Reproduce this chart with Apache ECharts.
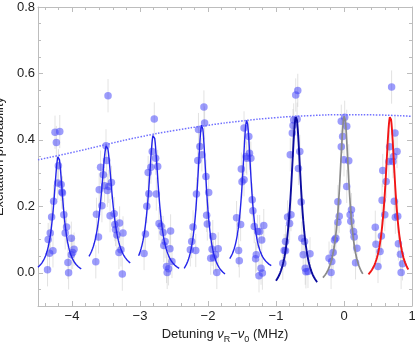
<!DOCTYPE html>
<html>
<head>
<meta charset="utf-8">
<script src="https://cdn.jsdelivr.net/npm/echarts@6/dist/echarts.min.js"></script>
<style>
html,body{margin:0;padding:0;background:#fff;}
#c{width:415px;height:342px;}
</style>
</head>
<body>
<div id="c"></div>
<script>
// ---- Data ----
const res1 = [[-4.25,0.423],[-4.18,0.425],[-4.23,0.392],[-4.20,0.322],[-4.21,0.27],[-4.16,0.266],[-4.14,0.24],[-4.15,0.243],[-4.27,0.215],[-4.30,0.168],[-4.12,0.175],[-4.08,0.138],[-4.10,0.12],[-4.32,0.12],[-4.35,0.10],[-4.01,0.104],[-4.28,0.066],[-4.33,0.059],[-3.97,0.071],[-3.99,0.061],[-4.01,0.054],[-4.06,0.031],[-4.36,0.009],[-4.05,0.0]];
const res2 = [[-3.47,0.533],[-3.50,0.382],[-3.49,0.338],[-3.58,0.318],[-3.54,0.295],[-3.52,0.262],[-3.46,0.26],[-3.60,0.25],[-3.48,0.248],[-3.42,0.272],[-3.56,0.202],[-3.64,0.176],[-3.44,0.172],[-3.38,0.178],[-3.37,0.145],[-3.30,0.15],[-3.36,0.13],[-3.34,0.114],[-3.25,0.12],[-3.61,0.108],[-3.31,0.061],[-3.28,0.069],[-3.65,0.033],[-3.26,-0.004]];
const res3 = [[-2.79,0.463],[-2.82,0.365],[-2.77,0.345],[-2.84,0.318],[-2.74,0.32],[-2.88,0.302],[-2.87,0.238],[-2.76,0.237],[-2.90,0.20],[-2.72,0.148],[-2.69,0.14],[-2.92,0.117],[-2.66,0.121],[-2.55,0.126],[-2.63,0.094],[-2.65,0.082],[-2.56,0.072],[-2.94,0.058],[-2.53,0.034],[-2.61,0.019],[-2.58,0.012],[-2.60,0.001]];
const res4 = [[-2.06,0.499],[-2.05,0.451],[-2.14,0.431],[-2.12,0.38],[-2.09,0.355],[-2.15,0.338],[-2.03,0.29],[-2.17,0.237],[-1.99,0.242],[-2.02,0.173],[-2.01,0.147],[-2.22,0.138],[-1.93,0.109],[-2.24,0.094],[-2.26,0.069],[-2.18,0.067],[-1.85,0.072],[-1.94,0.071],[-1.89,0.054],[-1.96,0.044],[-1.92,0.045],[-1.87,0.001]];
const res5 = [[-1.47,0.436],[-1.40,0.41],[-1.44,0.35],[-1.39,0.36],[-1.37,0.345],[-1.43,0.345],[-1.51,0.312],[-1.47,0.28],[-1.50,0.274],[-1.35,0.22],[-1.34,0.187],[-1.58,0.166],[-1.52,0.145],[-1.32,0.139],[-1.18,0.142],[-1.27,0.124],[-1.24,0.124],[-1.21,0.099],[-1.55,0.067],[-1.29,0.054],[-1.30,0.042],[-1.54,0.036],[-1.22,0.014],[-1.20,-0.001],[-1.25,-0.009]];
const res6 = [[-0.68,0.549],[-0.71,0.535],[-0.74,0.46],[-0.69,0.462],[-0.75,0.443],[-0.76,0.421],[-0.65,0.365],[-0.79,0.355],[-0.67,0.314],[-0.63,0.213],[-0.83,0.168],[-0.78,0.175],[-0.80,0.148],[-0.62,0.104],[-0.58,0.094],[-0.86,0.094],[-0.88,0.067],[-0.86,0.066],[-0.60,0.054],[-0.50,0.057],[-0.90,0.029],[-0.57,0.014],[-0.53,0.004],[-0.56,0.003]];
const res7 = [[0.01,0.468],[-0.04,0.456],[0.04,0.441],[-0.02,0.41],[-0.04,0.379],[0.0,0.34],[0.07,0.337],[0.04,0.26],[-0.09,0.214],[0.11,0.19],[-0.07,0.17],[0.09,0.175],[-0.09,0.152],[0.10,0.155],[0.14,0.124],[0.15,0.108],[-0.12,0.104],[-0.14,0.099],[0.19,0.074],[-0.16,0.061],[-0.22,0.044],[-0.18,0.034],[0.17,0.03],[-0.19,0.001]];
const res8 = [[0.70,0.559],[0.75,0.421],[0.67,0.379],[0.78,0.365],[0.73,0.35],[0.66,0.335],[0.72,0.335],[0.57,0.308],[0.62,0.275],[0.56,0.218],[0.74,0.215],[0.60,0.175],[0.755,0.167],[0.79,0.17],[0.46,0.137],[0.55,0.111],[0.47,0.086],[0.80,0.087],[0.53,0.064],[0.83,0.056],[0.50,0.019],[0.86,0.027],[0.84,0.001]];
const errHalf = 0.05;

// Lorentzian fit parameters per resonance
const fitCenters = [-4.20, -3.49, -2.80, -2.09, -1.43, -0.705, 0.005, 0.68];
const fitPeaks   = [0.352, 0.385, 0.418, 0.446, 0.459, 0.471, 0.473, 0.471];
const fitWidths  = [0.17, 0.20, 0.18, 0.165, 0.16, 0.18, 0.17, 0.175];
const fitOffsets = [-0.01, 0.0, -0.01, -0.03, 0.0, -0.07, -0.05, -0.04];
const fitFrom    = [-4.5, -3.75, -3.02, -2.35, -1.68, -1.0, -0.31, 0.36];
const fitTo      = [-3.86, -3.14, -2.42, -1.75, -1.07, -0.39, 0.28, 0.95];

// envelope (dotted) read at these detunings
const envX = [-4.5,-4,-3.5,-3,-2.5,-2,-1.5,-1,-0.5,0,0.5,1];
const envY = [0.340,0.362,0.386,0.409,0.428,0.444,0.457,0.467,0.473,0.476,0.475,0.471];

const xMajor = [-4,-3,-2,-1,0,1];
const xMinor = [-4.4,-4.2,-3.8,-3.6,-3.4,-3.2,-2.8,-2.6,-2.4,-2.2,-1.8,-1.6,-1.4,-1.2,-0.8,-0.6,-0.4,-0.2,0.2,0.4,0.6,0.8];
const yMajor = [0,0.2,0.4,0.6,0.8];
const yMinor = [-0.05,0.05,0.1,0.15,0.25,0.3,0.35,0.45,0.5,0.55,0.65,0.7,0.75];

// ---- Styling ----
const curveColors = ['#2424ea','#2424ea','#2424ea','#2424ea','#2424ea','#0b0b9e','#8a8a8a','#f21515'];
const curveWidths = [1.4,1.4,1.4,1.4,1.4,1.9,1.7,1.9];
const frameColor = '#bdbdbd';
const textColor = '#222';
const FONT = 'Liberation Sans, Arial, sans-serif';

function lorentzCurve(i){
  const c=fitCenters[i], p=fitPeaks[i], g=fitWidths[i], o=fitOffsets[i];
  const a=p-o, pts=[];
  const n=160;
  for(let k=0;k<=n;k++){
    const x=fitFrom[i]+(fitTo[i]-fitFrom[i])*k/n;
    const d=2*(x-c)/g;
    pts.push([x, o + a/(1+d*d)]);
  }
  return pts;
}

const allPoints = [].concat(res1,res2,res3,res4,res5,res6,res7,res8);

const chart = echarts.init(document.getElementById('c'), null, {renderer:'canvas'});
const fmtX = v => (v<0 ? '\u2212'+Math.abs(v) : String(v));

function xAx(pos, major){
  return {
    type:'value', position:pos, min:-4.5, max:1, gridIndex:0,
    axisLine:{show:major, onZero:false, lineStyle:{color:frameColor, width:1}},
    axisTick:{show:true, inside:true, length: major?5:3, customValues: major?xMajor:xMinor,
      lineStyle:{color:frameColor, width:1}},
    axisLabel:{show: major && pos==='bottom', customValues:xMajor, formatter:fmtX, margin:4,
      color:textColor, fontSize:13, fontFamily:FONT},
    splitLine:{show:false}
  };
}
function yAx(pos, major){
  return {
    type:'value', position:pos, min:-0.1, max:0.8, gridIndex:0,
    axisLine:{show:major, onZero:false, lineStyle:{color:frameColor, width:1}},
    axisTick:{show:true, inside:true, length: major?5:3, customValues: major?yMajor:yMinor,
      lineStyle:{color:frameColor, width:1}},
    axisLabel:{show: major && pos==='left', customValues:yMajor, formatter:v=>v.toFixed(1), margin:3,
      color:textColor, fontSize:13, fontFamily:FONT},
    splitLine:{show:false}
  };
}

const xAxes = [xAx('bottom',true), xAx('bottom',false), xAx('top',true), xAx('top',false)];
xAxes[0].name = '{n|Detuning }{i|\u03bd}{s|R}{n|\u2212}{i|\u03bd}{s|0}{n| (MHz)}';
xAxes[0].nameLocation = 'middle';
xAxes[0].nameGap = 20;
xAxes[0].nameTextStyle = {
  color:textColor, fontSize:13, fontFamily:FONT,
  rich:{
    n:{fontSize:13, fontFamily:FONT, color:textColor, lineHeight:16, verticalAlign:'top'},
    i:{fontSize:13, fontFamily:FONT, fontStyle:'italic', color:textColor, lineHeight:16, verticalAlign:'top'},
    s:{fontSize:9, fontFamily:FONT, color:textColor, lineHeight:11, padding:[7,0,0,0], verticalAlign:'top'}
  }
};
const yAxes = [yAx('left',true), yAx('left',false), yAx('right',true), yAx('right',false)];
yAxes[0].name = 'Excitation probability';
yAxes[0].nameLocation = 'middle';
yAxes[0].nameGap = 24;
yAxes[0].nameTextStyle = {color:textColor, fontSize:13, fontFamily:FONT};

const series = [];
series.push({
  type:'custom', xAxisIndex:0, yAxisIndex:0, clip:true, z:1, silent:true,
  data: allPoints.map(p=>[p[0],p[1],errHalf]),
  renderItem:(params, api)=>{
    const x=api.value(0), y=api.value(1), e=api.value(2);
    const a=api.coord([x,y-e]), b=api.coord([x,y+e]);
    return {type:'line', shape:{x1:a[0],y1:a[1],x2:b[0],y2:b[1]},
      style:{stroke:'rgba(190,190,190,0.45)', lineWidth:1}};
  }
});
series.push({
  type:'scatter', xAxisIndex:0, yAxisIndex:0, z:2, symbol:'circle', symbolSize:7.5,
  itemStyle:{color:'rgba(60,60,250,0.64)'},
  data: allPoints
});
for(let i=0;i<fitCenters.length;i++){
  series.push({
    type:'line', xAxisIndex:0, yAxisIndex:0, z:3, showSymbol:false, clip:true,
    lineStyle:{color:curveColors[i], width:curveWidths[i]},
    data: lorentzCurve(i)
  });
}
series.push({
  type:'line', xAxisIndex:0, yAxisIndex:0, z:4, showSymbol:false, smooth:true, clip:true,
  lineStyle:{color:'#7070ff', width:1.5, type:[1.5,1.5]},
  data: envX.map((x,k)=>[x, envY[k]])
});

chart.setOption({
  animation:false,
  backgroundColor:'#fff',
  grid:{left:38, top:7, width:374, height:299, containLabel:false, outerBoundsMode:'none'},
  xAxis:xAxes, yAxis:yAxes, series:series
});
</script>
</body>
</html>
